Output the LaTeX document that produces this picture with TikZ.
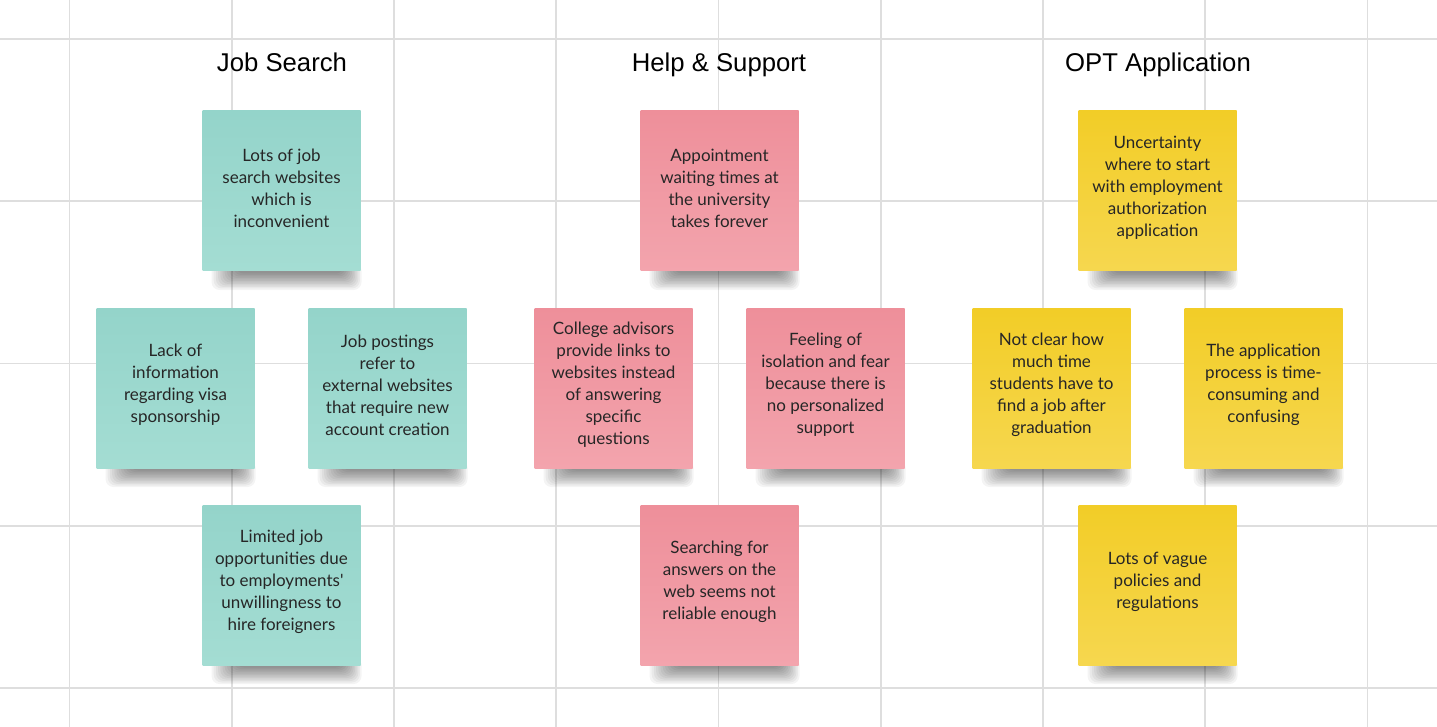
\documentclass[tikz,border=0pt]{standalone}
\usepackage{fontspec}
\setmainfont{Liberation Sans}
\newfontfamily\notefont{Lato}
\definecolor{gridc}{HTML}{DEDEDE}
\definecolor{tealtop}{HTML}{94D4CA}
\definecolor{tealbot}{HTML}{A4DDD3}
\definecolor{pinktop}{HTML}{EE8F9A}
\definecolor{pinkbot}{HTML}{F3A4AD}
\definecolor{yeltop}{HTML}{F2CD27}
\definecolor{yelbot}{HTML}{F6D74F}
\newcommand{\noteshadow}[2]{%
  \foreach \k in {0,...,11}{%
    \fill[black,opacity=0.045,rounded corners=8pt]
      ({#1-70+2.2*\k},{#2+72}) rectangle ({#1+80-1.6*\k},{#2+99-1.5*\k});
  }%
}
\begin{document}
\begin{tikzpicture}[x=1pt,y=-1pt,
  gridline/.style={draw=gridc,line width=1.6pt},
  heading/.style={font=\fontsize{25.7}{30}\selectfont,text=black,inner sep=0pt},
  notetext/.style={align=center,inner sep=0pt,yshift=3pt,
    font=\notefont\fontsize{17}{22}\selectfont,text=black!85},
  sticky/.style={minimum width=158pt,minimum height=160pt,inner sep=0pt},
  tealnote/.style={sticky,top color=tealtop,bottom color=tealbot},
  pinknote/.style={sticky,top color=pinktop,bottom color=pinkbot},
  yelnote/.style={sticky,top color=yeltop,bottom color=yelbot}]
\useasboundingbox (0,0) rectangle (1437,727);
\fill[white] (0,0) rectangle (1437,727);
% grid
\foreach \k in {0,...,8}{\draw[gridline] ({69.5+162.25*\k},0) -- ({69.5+162.25*\k},727);}
\foreach \k in {0,...,4}{\draw[gridline] (0,{39+162.25*\k}) -- (1437,{39+162.25*\k});}
% headings
\node[heading,anchor=base] (h1) at (282,71.5) {Job Search};
\node[heading,anchor=base] (h2) at (719,71.5) {Help \& Support};
\node[heading,anchor=base] (h3) at (1158,71.5) {OPT Application};
% shadows
\foreach \cx/\cy in {281.5/191,175.5/388,387.5/388,281.5/585,
                     719.5/191,613.5/388,825.5/388,719.5/585,
                     1157.5/191,1051.5/388,1263.5/388,1157.5/585}{%
  \noteshadow{\cx}{\cy}}
% Job Search
\node[tealnote,label={[notetext]center:{Lots of job\\search websites\\which is\\inconvenient}}] (j1) at (281.5,191) {};
\node[tealnote,label={[notetext]center:{Lack of\\information\\regarding visa\\sponsorship}}] (j2) at (175.5,388) {};
\node[tealnote,label={[notetext]center:{Job postings\\refer to\\external websites\\that require new\\account creation}}] (j3) at (387.5,388) {};
\node[tealnote,label={[notetext]center:{Limited job\\opportunities due\\to employments'\\unwillingness to\\hire foreigners}}] (j4) at (281.5,585) {};
% Help & Support
\node[pinknote,label={[notetext]center:{Appointment\\waiting times at\\the university\\takes forever}}] (s1) at (719.5,191) {};
\node[pinknote,label={[notetext]center:{College advisors\\provide links to\\websites instead\\of answering\\specific\\questions}}] (s2) at (613.5,388) {};
\node[pinknote,label={[notetext]center:{Feeling of\\isolation and fear\\because there is\\no personalized\\support}}] (s3) at (825.5,388) {};
\node[pinknote,label={[notetext]center:{Searching for\\answers on the\\web seems not\\reliable enough}}] (s4) at (719.5,585) {};
% OPT Application
\node[yelnote,label={[notetext]center:{Uncertainty\\where to start\\with employment\\authorization\\application}}] (o1) at (1157.5,191) {};
\node[yelnote,label={[notetext]center:{Not clear how\\much time\\students have to\\find a job after\\graduation}}] (o2) at (1051.5,388) {};
\node[yelnote,label={[notetext]center:{The application\\process is time-\\consuming and\\confusing}}] (o3) at (1263.5,388) {};
\node[yelnote,label={[notetext]center:{Lots of vague\\policies and\\regulations}}] (o4) at (1157.5,585) {};
\end{tikzpicture}
\end{document}
